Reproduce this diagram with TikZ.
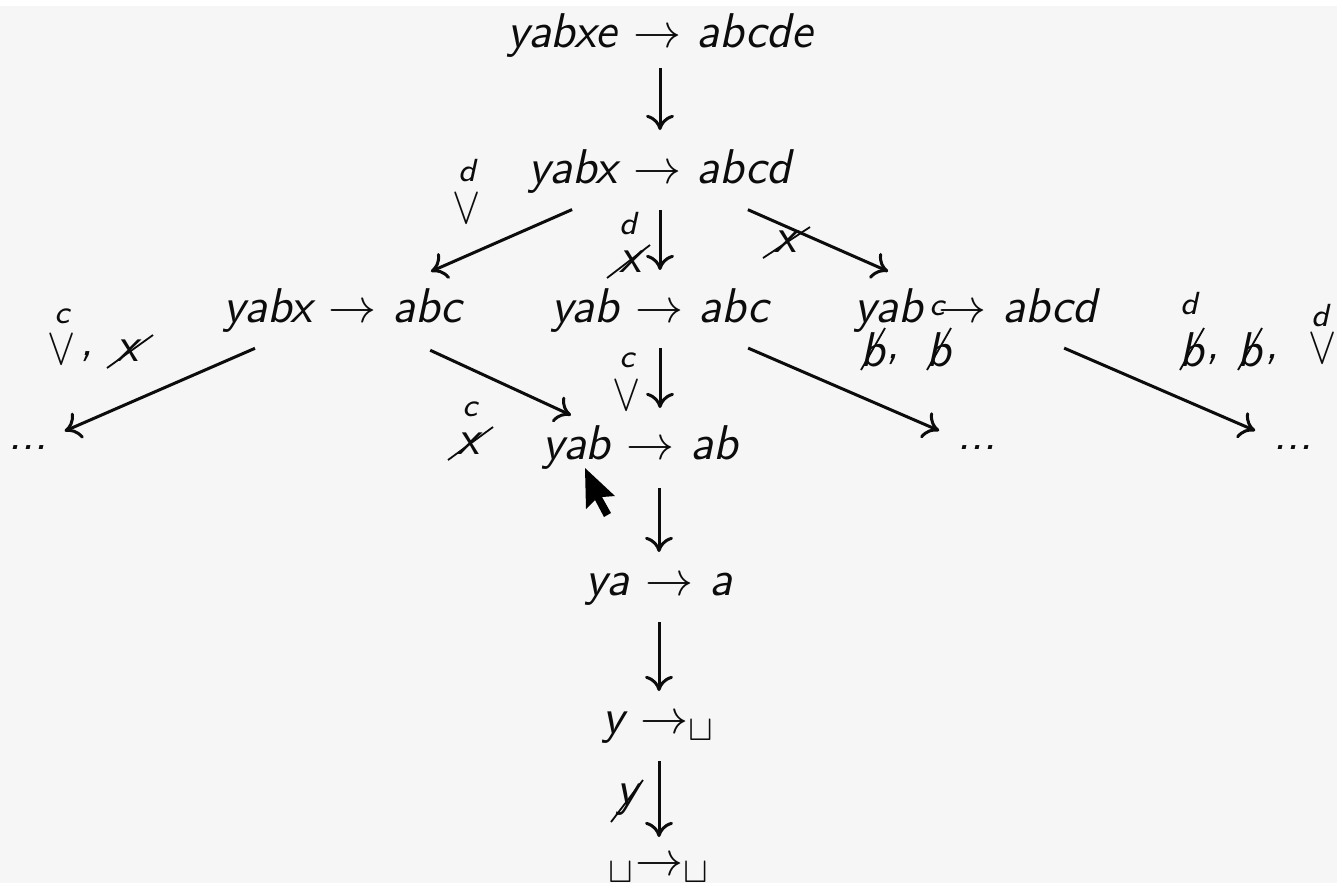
\documentclass[tikz,border=0pt]{standalone}
\usepackage{graphicx}
\usetikzlibrary{arrows.meta}
\definecolor{bgc}{RGB}{246,246,246}
\definecolor{ink}{RGB}{12,12,12}
\newcommand{\myvee}{\scalebox{0.88}[1.1]{$\vee$}}
\begin{document}
\begin{tikzpicture}[x=0.25pt,y=-0.25pt,
  every node/.style={inner sep=0pt, text=ink},
  term/.style={font=\fontsize{12.2}{14}\sffamily\itshape, anchor=base, text height=8.5pt, text depth=2.5pt},
  glyph/.style={font=\fontsize{12.2}{14}\sffamily\itshape},
  small/.style={font=\fontsize{8}{9}\sffamily\itshape},
  conn/.style={draw=ink, line width=0.75pt, -{To[length=3.8pt,width=7pt]}},
  strike/.style={draw=ink, line width=0.45pt}]
\fill[bgc] (0,0) rectangle (1337,883);
\fill[white] (0,0) rectangle (1337,6);
\useasboundingbox (0,0) rectangle (1337,883);

% main terms
\node[term] (n1) at (660,47) {yabxe $\rightarrow$ abcde};
\node[term] (n2) at (660,183) {yabx $\rightarrow$ abcd};
\node[term] (n3) at (343,322) {yabx $\rightarrow$ abc};
\node[term] (n4) at (660,322) {yab $\rightarrow$ abc};
\node[term] (n5) at (976,322) {yab $\rightarrow$ abcd};
\node[term] (n6) at (640,459) {yab $\rightarrow$ ab};
\node[term] (n7) at (659,595) {ya $\rightarrow$ a};
\node[term] (n8) at (659,733) {y $\mathord{\rightarrow}_{\sqcup}$};
\node[term] (n9) at (659,875) {${}_{\sqcup}\mathord{\rightarrow}_{\sqcup}$};

% dots
\node[glyph] (d1) at (28,447) {...};
\node[glyph] (d2) at (977,447) {...};
\node[glyph] (d3) at (1293,447) {...};

% connectors
\draw[conn, shorten <=8.25pt, shorten >=10.25pt] (n1.center) -- (n2.center);
\draw[conn, shorten <=24pt, shorten >=24pt] (n2.center) -- (n3.center);
\draw[conn, shorten <=9.75pt, shorten >=10pt] (n2.center) -- (n4.center);
\draw[conn, shorten <=24pt, shorten >=24pt] (n2.center) -- (n5.center);
\draw[conn, shorten <=24pt, shorten >=10pt] (n3.center) -- (d1.center);
\draw[conn, shorten <=24pt, shorten >=19pt] (n3.center) -- (n6.center);
\draw[conn, shorten <=9.5pt, shorten >=9.75pt] (n4.center) -- (n4.center |- n6.center);
\draw[conn, shorten <=24pt, shorten >=10.3pt] (n4.center) -- (d2.center);
\draw[conn, shorten <=24pt, shorten >=10.3pt] (n5.center) -- (d3.center);
\draw[conn, shorten <=10.25pt, shorten >=7.75pt] (n7.center |- n6.center) -- (n7.center);
\draw[conn, shorten <=9.75pt, shorten >=7.5pt] (n7.center) -- (n8.center);
\draw[conn, shorten <=10pt, shorten >=6.5pt] (n8.center) -- (n9.center);

% labels
\node[small] (l1d) at (467,171) {d};
\node[glyph] (l1v) at (467,209) {\myvee};

\node[small] (l2d) at (628,224) {d};
\node[glyph] (l2x) at (630,262) {x};
\draw[strike] ([shift={(-23,16)}]l2x.center) -- ([shift={(20,-17)}]l2x.center);

\node[glyph] (l3x) at (785,242) {x};
\draw[strike] ([shift={(-22,16)}]l3x.center) -- ([shift={(25,-15)}]l3x.center);

\node[small] (l4c) at (62,316) {c};
\node[glyph] (l4v) at (62,350) {\myvee};
\node[glyph] (l4m) at (87,357) {,};
\node[glyph] (l4x) at (127,351) {x};
\draw[strike] ([shift={(-20,17)}]l4x.center) -- ([shift={(26,-16)}]l4x.center);

\node[small] (l5c) at (627,360) {c};
\node[glyph] (l5v) at (627,396) {\myvee};

\node[small] (l6c) at (470,409) {c};
\node[glyph] (l6x) at (468,444) {x};
\draw[strike] ([shift={(-20,16)}]l6x.center) -- ([shift={(25,-17)}]l6x.center);

\node[small] (l7c) at (937,308) {c};
\node[glyph] (l7b) at (873,350) {b};
\node[glyph] (l7m) at (893,360) {,};
\node[glyph] (l7b2) at (939,350) {b};
\draw[strike] ([shift={(-12,20)}]l7b.center) -- ([shift={(12,-22)}]l7b.center);
\draw[strike] ([shift={(-12,20)}]l7b2.center) -- ([shift={(12,-22)}]l7b2.center);

\node[small] (l8d) at (1189,304) {d};
\node[glyph] (l8b) at (1192,350) {b};
\node[glyph] (l8m) at (1213,360) {,};
\node[glyph] (l8b2) at (1250,350) {b};
\node[glyph] (l8m2) at (1272,360) {,};
\node[small] (l8d2) at (1320,316) {d};
\node[glyph] (l8v) at (1323,349) {\myvee};
\draw[strike] ([shift={(-12,20)}]l8b.center) -- ([shift={(12,-22)}]l8b.center);
\draw[strike] ([shift={(-12,20)}]l8b2.center) -- ([shift={(12,-22)}]l8b2.center);

\node[glyph] (l9y) at (627,800) {y};
\draw[strike] ([shift={(-16,22)}]l9y.center) -- ([shift={(16,-20)}]l9y.center);

% mouse pointer
\fill[black] (585,468) -- ++(1,41) -- ++(9,-9) -- ++(9,17) -- ++(7,-4) -- ++(-9,-16) -- ++(13,-1) -- cycle;
\end{tikzpicture}
\end{document}
